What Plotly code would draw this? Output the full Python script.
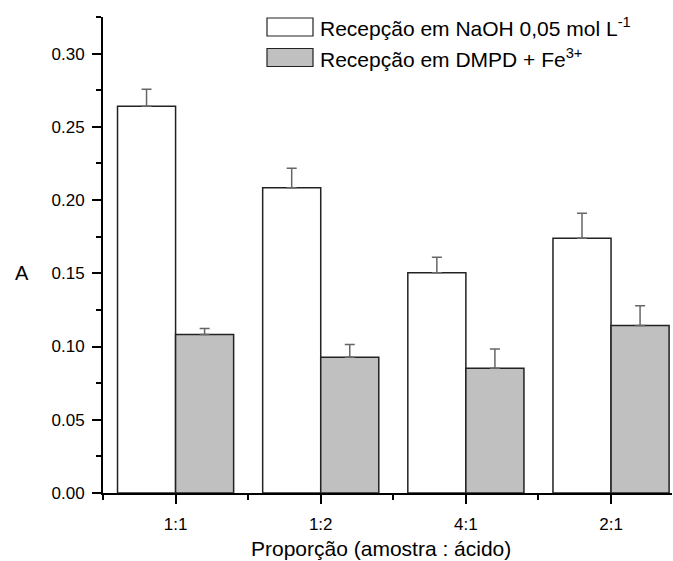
import plotly.graph_objects as go

categories = ["1:1", "1:2", "4:1", "2:1"]
naoh_values = [0.264, 0.2085, 0.1504, 0.1739]
naoh_errors = [0.0117, 0.0133, 0.0105, 0.0171]
dmpd_values = [0.1083, 0.0927, 0.0852, 0.1144]
dmpd_errors = [0.0040, 0.0087, 0.0132, 0.0134]
series_names = ["Recepção em NaOH 0,05 mol L<sup>-1</sup>", "Recepção em DMPD + Fe<sup>3+</sup>"]
y_ticks = [0.00, 0.05, 0.10, 0.15, 0.20, 0.25, 0.30]

FONT = "Liberation Sans, Arial, Helvetica, sans-serif"
positions = list(range(len(categories)))

fig = go.Figure()
fig.add_trace(go.Bar(
    x=positions, y=naoh_values, name=series_names[0],
    marker=dict(color="white", line=dict(color="#222222", width=1.5)),
    error_y=dict(type="data", array=naoh_errors, arrayminus=[0] * len(naoh_errors),
                 symmetric=False, color="#666666", thickness=1.5, width=5),
    showlegend=False,
))
fig.add_trace(go.Bar(
    x=positions, y=dmpd_values, name=series_names[1],
    marker=dict(color="#c0c0c0", line=dict(color="#222222", width=1.5)),
    error_y=dict(type="data", array=dmpd_errors, arrayminus=[0] * len(dmpd_errors),
                 symmetric=False, color="#666666", thickness=1.5, width=5),
    showlegend=False,
))

# plot area in pixels: x 103..672, y 17..493
L, R, T, B = 103, 672, 17, 493
W, H = R - L, B - T
def px(x):
    return (x - L) / W
def py(y):
    return (B - y) / H

# custom legend
legend_rows = [(18, 36, "white"), (48.5, 66.5, "#c0c0c0")]
for (y0, y1, col), name in zip(legend_rows, series_names):
    fig.add_shape(type="rect", xref="paper", yref="paper",
                  x0=px(267), x1=px(313), y0=py(y1), y1=py(y0),
                  line=dict(color="#222222", width=1.2), fillcolor=col)
    fig.add_annotation(xref="paper", yref="paper", x=px(318), y=py((y0 + y1) / 2),
                       text=name, showarrow=False, xanchor="left", yanchor="middle",
                       font=dict(family=FONT, size=21, color="black"))

fig.add_annotation(xref="paper", yref="paper", x=px(22), y=py(273), text="A",
                   showarrow=False, xanchor="center", yanchor="middle",
                   font=dict(family=FONT, size=20, color="black"))
fig.add_annotation(xref="paper", yref="paper", x=px(381), y=py(548),
                   text="Proporção (amostra : ácido)",
                   showarrow=False, xanchor="center", yanchor="middle",
                   font=dict(family=FONT, size=21, color="black"))

fig.update_layout(
    width=673, height=561,
    margin=dict(l=L, r=673 - R, t=T, b=561 - B),
    paper_bgcolor="white", plot_bgcolor="white",
    barmode="group", bargap=0.2, bargroupgap=0,
    font=dict(family=FONT, size=17, color="black"),
    xaxis=dict(
        range=[-0.5, 3.42], tickvals=positions, ticktext=categories,
        showline=True, linecolor="black", linewidth=2,
        ticks="outside", ticklen=9, tickwidth=2, tickcolor="black",
        showgrid=False, zeroline=False, ticklabelstandoff=6,
        minor=dict(tickvals=[-0.5, 0.5, 1.5, 2.5, 3.5], ticks="outside",
                   ticklen=5, tickwidth=2, tickcolor="black"),
        tickfont=dict(family=FONT, size=17),
    ),
    yaxis=dict(
        range=[0, 0.325], tickvals=y_ticks, tickformat=".2f",
        showline=True, linecolor="black", linewidth=2,
        ticks="outside", ticklen=9, tickwidth=2, tickcolor="black",
        showgrid=False, zeroline=False, ticklabelstandoff=4,
        minor=dict(dtick=0.025, tick0=0, ticks="outside",
                   ticklen=5, tickwidth=2, tickcolor="black"),
        tickfont=dict(family=FONT, size=17),
    ),
)

fig.write_html("out.html", config={"displayModeBar": False},
               post_script="document.body.style.margin='0';")
